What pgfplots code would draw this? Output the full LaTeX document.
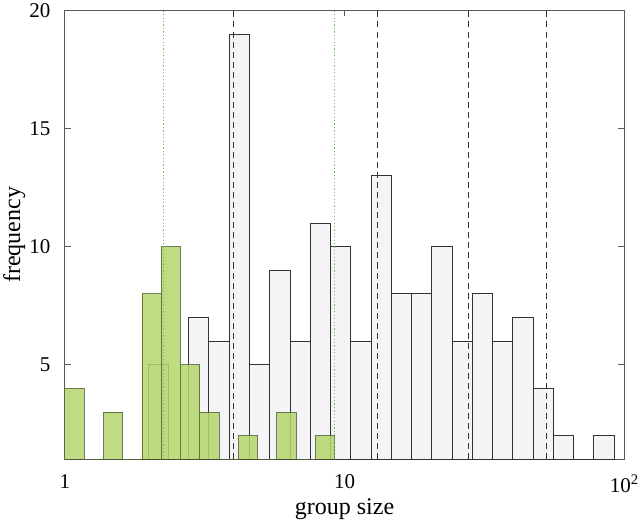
\documentclass[border=0pt]{standalone}
\usepackage{fontspec}
\setmainfont{Liberation Serif}
\usepackage{pgfplots}
\pgfplotsset{compat=1.18}

\definecolor{barGrey}{HTML}{F4F4F7}
\definecolor{barEdge}{HTML}{333333}
\definecolor{barGreen}{HTML}{B4D66C}
\definecolor{greenEdge}{HTML}{3F4A2A}
\definecolor{dotGreen}{HTML}{6CC05A}

\begin{document}
\begin{tikzpicture}
\begin{axis}[
    scale only axis,
    width=557bp, height=447bp,
    xmode=log,
    xmin=1, xmax=100,
    ymin=1, ymax=20,
    xtick={1,10,100},
    xticklabels={1,10,10\textsuperscript{2}},
    ytick={5,10,15,20},
    xminorticks=false,
    tick align=inside,
    major tick length=6bp,
    axis line style={draw=black!65, line width=0.9pt},
    every tick/.style={draw=black!65, line width=0.9pt},
    tick label style={font=\fontsize{21}{25}\selectfont},
    xticklabel style={yshift=-12bp},
    yticklabel style={xshift=-11bp},
    label style={font=\fontsize{24}{28}\selectfont},
    /pgf/number format/assume math mode=true,
    xlabel={group size},
    ylabel={frequency},
    xlabel style={yshift=1bp},
    ylabel style={yshift=-3bp},
]
% all group sizes
\addplot[ybar interval, fill=barGrey, draw=barEdge, line width=0.9pt] coordinates {
(1.6793,1) (1.9843,5) (2.3446,0) (2.7703,7) (3.2733,6) (3.8676,19)
(4.5697,5) (5.3995,9) (6.380,6) (7.5393,11) (8.9071,10) (10.524,6)
(12.435,13) (14.695,8) (17.362,8) (20.513,10) (24.24,6) (28.64,8)
(33.84,6) (39.98,7) (47.24,4) (55.82,2) (65.95,0) (77.93,2) (92.07,2)
};
% subset, on top, see-through
\addplot[ybar interval, fill=barGreen, fill opacity=0.85, draw=greenEdge, draw opacity=0.7, line width=0.9pt] coordinates {
(1,4) (1.1720,0) (1.3735,3) (1.6097,0) (1.8865,8) (2.2110,10) (2.5912,5)
(3.0367,3) (3.5590,0) (4.1709,2) (4.8882,0) (5.7288,3) (6.7141,0)
(7.8684,2) (9.2217,2)
};
% dashed markers
\addplot[black!80, line width=1.3pt, dash pattern=on 6bp off 4bp] coordinates {(4.01,1) (4.01,20)};
\addplot[black!80, line width=1.3pt, dash pattern=on 6bp off 4bp] coordinates {(13.1,1) (13.1,20)};
\addplot[black!80, line width=1.3pt, dash pattern=on 6bp off 4bp] coordinates {(27.8,1) (27.8,20)};
\addplot[black!80, line width=1.3pt, dash pattern=on 6bp off 4bp] coordinates {(52.6,1) (52.6,20)};
% green dotted markers
\addplot[dotGreen, line width=1pt, dash pattern=on 1.2bp off 2.2bp] coordinates {(2.26,1) (2.26,20)};
\addplot[dotGreen, line width=1pt, dash pattern=on 1.2bp off 2.2bp] coordinates {(9.22,1) (9.22,20)};
\end{axis}
\end{tikzpicture}
\end{document}
